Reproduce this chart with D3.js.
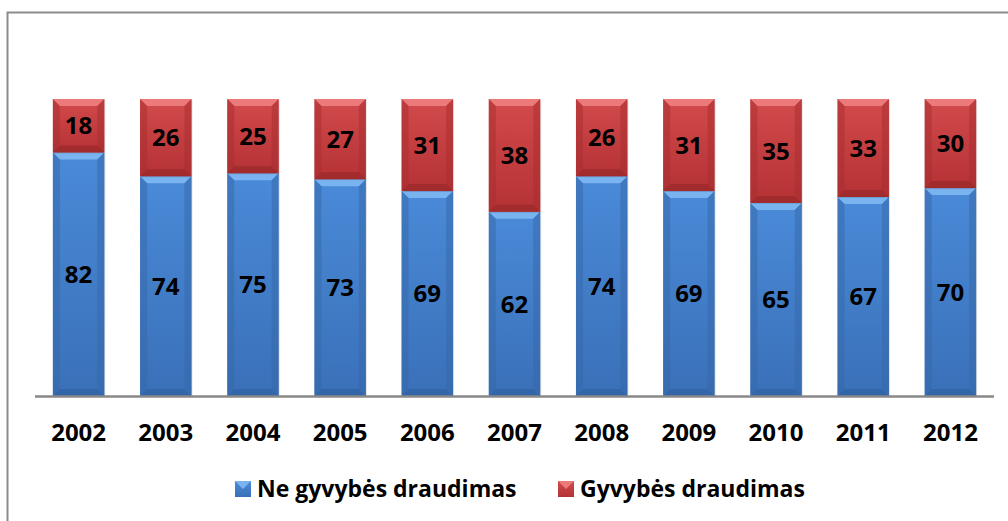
<!DOCTYPE html>
<html><head><meta charset="utf-8">
<script src="https://cdn.jsdelivr.net/npm/d3@7/dist/d3.min.js"></script>
<style>body{margin:0;background:#fff}svg{display:block}text{font-family:"Open Sans",sans-serif;font-weight:700;fill:#000}</style>
</head><body><svg id="c" width="1008" height="521"></svg>
<script>
const years = ["2002","2003","2004","2005","2006","2007","2008","2009","2010","2011","2012"];
const neGyvybes = [82,74,75,73,69,62,74,69,65,67,70];
const gyvybes = [18,26,25,27,31,38,26,31,35,33,30];
const seriesNames = ["Ne gyvybės draudimas","Gyvybės draudimas"];

const svg = d3.select("#c");
svg.append("rect").attr("x",7.5).attr("y",12.5).attr("width",1010).attr("height",520)
  .attr("fill","#fff").attr("stroke","#8c8c8c").attr("stroke-width",2);

const defs = svg.append("defs");
const pal = [
  {main:["#4a8ad8","#3a70b8"], top:"#7ab4f0", bot:"#2f5f9e", side:"#3567a8"},
  {main:["#d24a4c","#b53234"], top:"#ec7a7b", bot:"#952628", side:"#a82e30"}
];
pal.forEach((p,i)=>{
  const g = defs.append("linearGradient").attr("id","g"+i).attr("x1",0).attr("y1",0).attr("x2",0).attr("y2",1);
  g.append("stop").attr("offset","0%").attr("stop-color",p.main[0]);
  g.append("stop").attr("offset","100%").attr("stop-color",p.main[1]);
});

const x = d3.scaleBand().domain(years).range([35,994]).paddingInner(0.41).paddingOuter(0.205);
const y = d3.scaleLinear().domain([0,100]).range([396,99]);

const stack = d3.stack().keys(["a","b"])(years.map((yr,i)=>({yr,a:neGyvybes[i],b:gyvybes[i]})));

stack.forEach((layer,si)=>{
  const p = pal[si];
  const g = svg.append("g");
  layer.forEach(d=>{
    const x0 = x(d.data.yr), w = x.bandwidth();
    const yt = y(d[1]), yb = y(d[0]), h = yb-yt;
    const b = 7;
    g.append("rect").attr("x",x0+1).attr("y",yt+1).attr("width",w).attr("height",h).attr("fill","#000").attr("opacity",0.12);
    g.append("rect").attr("x",x0).attr("y",yt).attr("width",w).attr("height",h).attr("fill",`url(#g${si})`);
    g.append("path").attr("d",`M${x0},${yt}L${x0+w},${yt}L${x0+w-b},${yt+b}L${x0+b},${yt+b}Z`).attr("fill",p.top);
    g.append("path").attr("d",`M${x0},${yb}L${x0+w},${yb}L${x0+w-b},${yb-b}L${x0+b},${yb-b}Z`).attr("fill",p.bot).attr("opacity",0.6);
    g.append("path").attr("d",`M${x0},${yt}L${x0+b},${yt+b}L${x0+b},${yb-b}L${x0},${yb}Z`).attr("fill",p.side).attr("opacity",0.5);
    g.append("path").attr("d",`M${x0+w},${yt}L${x0+w-b},${yt+b}L${x0+w-b},${yb-b}L${x0+w},${yb}Z`).attr("fill",p.side).attr("opacity",0.5);
    g.append("text").attr("x",x0+w/2).attr("y",(yt+yb)/2).attr("text-anchor","middle").attr("dy","0.36em")
      .style("font-size","24px").text(d[1]-d[0]);
  });
});

const axis = svg.append("g").attr("transform","translate(0,396)")
  .call(d3.axisBottom(x).tickSize(0).tickPadding(0));
axis.select(".domain").attr("d","M35,0.5H994").attr("stroke","#888").attr("stroke-width",2.5);
axis.selectAll("text").attr("dy","0.36em").attr("y",36).style("font-size","24px").style("font-family","'Open Sans',sans-serif").style("font-weight","700").attr("fill","#000");

const legend = svg.append("g");
const lx = [235,558];
seriesNames.forEach((n,i)=>{
  const p = pal[i];
  legend.append("rect").attr("x",lx[i]).attr("y",481).attr("width",16).attr("height",16).attr("fill",`url(#g${i})`);
  legend.append("path").attr("d",`M${lx[i]},481L${lx[i]+16},481L${lx[i]+8},489Z`).attr("fill",p.top);
  legend.append("text").attr("x",lx[i]+22).attr("y",489).attr("dy","0.36em").style("font-size","23px").text(n);
});
</script></body></html>
